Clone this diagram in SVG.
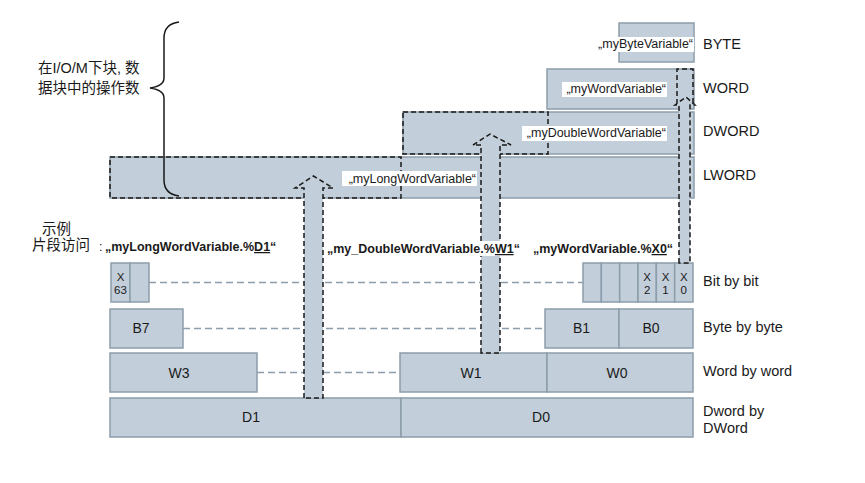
<svg xmlns="http://www.w3.org/2000/svg" width="865" height="483" viewBox="0 0 865 483">
<style>
.box{fill:#c2ced9;stroke:#8c9dab;stroke-width:1.5}
.sel{fill:none;stroke:#1a1a1a;stroke-width:1.5;stroke-dasharray:5 3}
.arr{fill:#c2ced9;stroke:#1a1a1a;stroke-width:1.5;stroke-dasharray:5 3;stroke-linejoin:miter}
.conn{fill:none;stroke:#8c9dab;stroke-width:1.5;stroke-dasharray:7 4}
.bg{fill:#ffffff}
.t{font-family:"Liberation Sans",Arial,"Noto Sans CJK SC",sans-serif;fill:#1a1a1a}
.lbl{font-size:14.5px}
.cell{font-size:14px;text-anchor:middle}
.var{font-size:12.5px;text-anchor:end}
.bold{font-size:12.5px;font-weight:bold}
.bit{font-size:11.5px;text-anchor:middle}
.cjk{font-size:14.5px}
</style>
<rect width="865" height="483" fill="#ffffff"/>

<g id="lword">
  <rect class="box" x="110" y="157" width="584" height="41"/>
  <rect class="sel" x="110" y="157" width="291" height="41"/>
</g>
<g id="dword">
  <rect class="box" x="403" y="112" width="291" height="42"/>
  <rect class="sel" x="403" y="112" width="145" height="42"/>
</g>
<g id="word">
  <rect class="box" x="547" y="69" width="147" height="40"/>
</g>
<g id="byte">
  <rect class="box" x="619" y="23" width="75" height="39"/>
</g>

<g id="annotation">
  <path d="M179,22 Q164,24 164,38 V78 Q164,86 150,88 Q164,90 164,98 V180 Q164,194 179,196" fill="none" stroke="#1a1a1a" stroke-width="1.5"/>
  <text class="t cjk" x="38" y="73">在I/O/M下块, 数</text>
  <text class="t cjk" x="38" y="93">据块中的操作数</text>
</g>

<g id="bitrow">
  <rect class="box" x="111" y="263" width="19" height="39"/>
  <rect class="box" x="130" y="263" width="19" height="39"/>
  <rect class="box" x="583" y="263" width="18.33" height="39"/>
  <rect class="box" x="601.33" y="263" width="18.33" height="39"/>
  <rect class="box" x="619.67" y="263" width="18.33" height="39"/>
  <rect class="box" x="638" y="263" width="18.33" height="39"/>
  <rect class="box" x="656.33" y="263" width="18.33" height="39"/>
  <rect class="box" x="674.67" y="263" width="18.33" height="39"/>
  <text class="t bit" x="120.5" y="281">X</text>
  <text class="t bit" x="120.5" y="294">63</text>
  <text class="t bit" x="647.2" y="281">X</text>
  <text class="t bit" x="647.2" y="294">2</text>
  <text class="t bit" x="665.5" y="281">X</text>
  <text class="t bit" x="665.5" y="294">1</text>
  <text class="t bit" x="683.8" y="281">X</text>
  <text class="t bit" x="683.8" y="294">0</text>
</g>

<g id="byterow">
  <rect class="box" x="110" y="309" width="73" height="39"/>
  <rect class="box" x="545" y="309" width="74" height="39"/>
  <rect class="box" x="619" y="309" width="74" height="39"/>
  <text class="t cell" x="141" y="333">B7</text>
  <text class="t cell" x="581.5" y="333">B1</text>
  <text class="t cell" x="651" y="333">B0</text>
</g>

<g id="wordrow">
  <rect class="box" x="110" y="353" width="147" height="39"/>
  <rect class="box" x="400" y="353" width="147" height="39"/>
  <rect class="box" x="547" y="353" width="146" height="39"/>
  <text class="t cell" x="179" y="378">W3</text>
  <text class="t cell" x="471" y="378">W1</text>
  <text class="t cell" x="617" y="378">W0</text>
</g>

<g id="dwordrow">
  <rect class="box" x="110" y="398" width="291" height="39"/>
  <rect class="box" x="401" y="398" width="292" height="39"/>
  <text class="t cell" x="251" y="422">D1</text>
  <text class="t cell" x="541" y="422">D0</text>
</g>

<g id="connectors">
  <path class="conn" d="M149,282.5 H583"/>
  <path class="conn" d="M183,328.5 H545"/>
  <path class="conn" d="M257,372.5 H400"/>
  <path class="sel" d="M677,104 V69 H693 V104"/>
  <path class="arr" d="M304,398 V188 H295 L313.5,176 L333,188 H323 V398 Z"/>
  <path class="arr" d="M481,353 V145 H473 L490,134 L511,145 H500 V353 Z"/>
  <path class="arr" d="M679,263 V105 H675 L686,97 L695,105 H690 V263 Z"/>
</g>

<g id="varlabels">
  <rect class="bg" x="596" y="37" width="98" height="15"/>
  <text class="t var" x="693" y="48">„myByteVariable“</text>
  <rect class="bg" x="562" y="82" width="105" height="15"/>
  <text class="t var" x="666" y="93">„myWordVariable“</text>
  <rect class="bg" x="522" y="126" width="145" height="15"/>
  <text class="t var" x="666" y="137">„myDoubleWordVariable“</text>
  <rect class="bg" x="342" y="171" width="135" height="15"/>
  <text class="t var" x="476" y="183">„myLongWordVariable“</text>
</g>

<g id="typelabels">
  <text class="t lbl" x="703" y="49">BYTE</text>
  <text class="t lbl" x="703" y="93">WORD</text>
  <text class="t lbl" x="703" y="136">DWORD</text>
  <text class="t lbl" x="703" y="180">LWORD</text>
  <text class="t lbl" x="703" y="286">Bit by bit</text>
  <text class="t lbl" x="703" y="332">Byte by byte</text>
  <text class="t lbl" x="703" y="376">Word by word</text>
  <text class="t lbl" x="703" y="416">Dword by</text>
  <text class="t lbl" x="703" y="433">DWord</text>
</g>

<g id="examples">
  <text class="t cjk" x="42" y="234">示例</text>
  <text class="t cjk" x="32" y="250">片段访问</text>
  <text class="t" x="99" y="251" font-size="12.5">:</text>
  <text class="t bold" x="105" y="251">„myLongWordVariable.%<tspan text-decoration="underline">D1</tspan>“</text>
  <rect class="bg" x="470" y="241" width="50" height="15"/>
  <text class="t bold" x="327" y="253">„my_DoubleWordVariable.%<tspan text-decoration="underline">W1</tspan>“</text>
  <text class="t bold" x="533" y="253">„myWordVariable.%<tspan text-decoration="underline">X0</tspan>“</text>
</g>
</svg>
